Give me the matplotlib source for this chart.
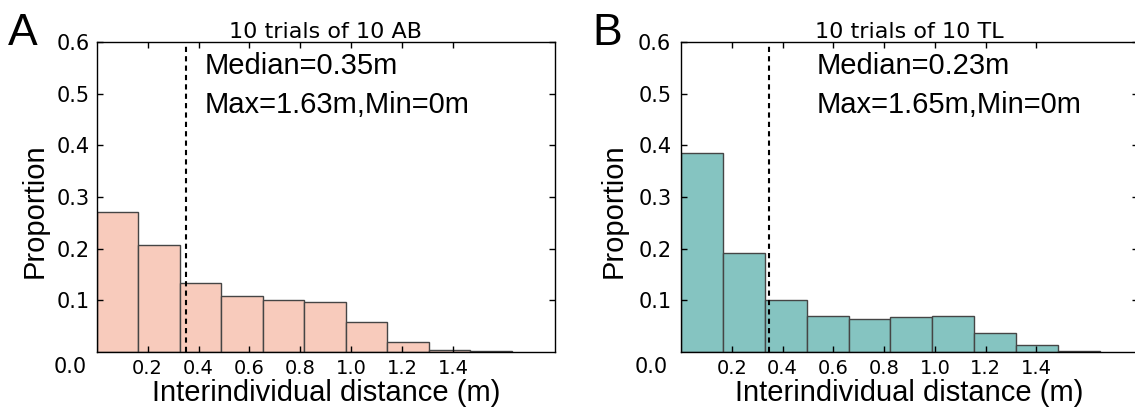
import matplotlib
matplotlib.use("Agg")
import matplotlib.pyplot as plt
import numpy as np

# proportion per bin (10 equal bins from 0 to max distance)
ab_props = [0.271, 0.208, 0.133, 0.108, 0.101, 0.096, 0.058, 0.019, 0.004, 0.001]
tl_props = [0.385, 0.191, 0.101, 0.070, 0.063, 0.067, 0.070, 0.036, 0.013, 0.002]
ab_max = 1.63
tl_max = 1.65
median_line = [0.35, 0.347]   # where the dashed lines are drawn
titles = ["10 trials of 10 AB", "10 trials of 10 TL"]
notes = [("Median=0.35m", "Max=1.63m,Min=0m"), ("Median=0.23m", "Max=1.65m,Min=0m")]
panel_tags = ["A", "B"]
xticks = [0.2, 0.4, 0.6, 0.8, 1.0, 1.2, 1.4]
yticks = [0.1, 0.2, 0.3, 0.4, 0.5, 0.6]

colors = ["#F8CBBC", "#85C4C1"]
edge = "#454545"


def draw_figure():
    fig = plt.figure(figsize=(11.35, 4.12), dpi=100)
    axes = [fig.add_axes([0.0852, 0.1456, 0.4038, 0.7524]),
            fig.add_axes([0.6000, 0.1456, 0.4026, 0.7524])]
    props = [ab_props, tl_props]
    maxes = [ab_max, tl_max]
    note_x = [0.236, 0.297]
    ylab_x = [-0.104, -0.117]
    ypad = [5, 7]
    tag_x = [8, 592]

    for i, ax in enumerate(axes):
        edges = np.linspace(0, maxes[i], len(props[i]) + 1)
        ax.bar(edges[:-1], props[i], width=np.diff(edges), align="edge",
               color=colors[i], edgecolor=edge, linewidth=1.0)
        ax.axvline(median_line[i], color="black", linewidth=1.5,
                   linestyle=(0, (2.5, 2)))

        ax.set_xlim(0, 1.8)
        ax.set_ylim(0, 0.6)
        ax.set_xticks(xticks)
        ax.set_xticklabels([f"{t:.1f}" for t in xticks], family="DejaVu Sans", fontsize=14)
        ax.set_yticks(yticks)
        ax.set_yticklabels([f"{t:.1f}" for t in yticks], family="DejaVu Sans", fontsize=15)
        ax.tick_params(axis="x", direction="in", length=4, width=1, pad=5, top=True)
        ax.tick_params(axis="y", direction="in", length=4, width=1, pad=ypad[i], right=True)
        ax.annotate("0.0", xy=(0, 0), xycoords="axes fraction", xytext=(-7.5 - (ypad[i] - 5), -10.5),
                    textcoords="offset points", ha="right", va="center",
                    family="DejaVu Sans", fontsize=15)
        for s in ax.spines.values():
            s.set_linewidth(1.0)

        ax.set_title(titles[i], family="DejaVu Sans", fontsize=16, pad=3)
        ax.set_xlabel("Interindividual distance (m)", family="Liberation Sans", fontsize=21, labelpad=1)
        ax.set_ylabel("Proportion", family="Liberation Sans", fontsize=21)
        ax.yaxis.set_label_coords(ylab_x[i], 0.455)

        ax.text(note_x[i], 0.897, notes[i][0], transform=ax.transAxes,
                family="Liberation Sans", fontsize=21, va="baseline")
        ax.text(note_x[i], 0.772, notes[i][1], transform=ax.transAxes,
                family="Liberation Sans", fontsize=21, va="baseline")

        fig.text(tag_x[i] / 1135, 1 - 45 / 412, panel_tags[i], family="Liberation Sans",
                 fontsize=32, va="baseline", ha="left")

    fig.savefig("out.png", dpi=100)


if __name__ == "__main__":
    draw_figure()
